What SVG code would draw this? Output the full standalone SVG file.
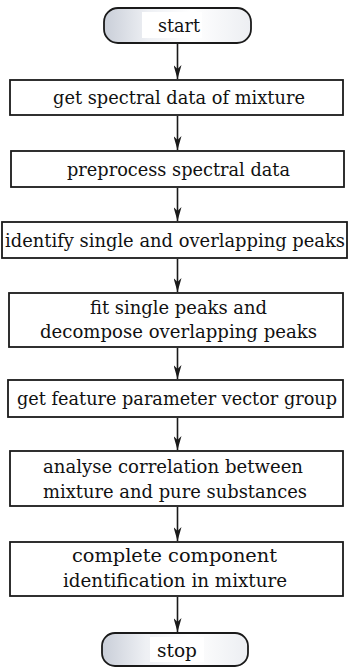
<svg xmlns="http://www.w3.org/2000/svg" width="348" height="667" viewBox="0 0 348 667">
<style>
.box{fill:#fff;stroke:#1a1a1a;stroke-width:1.8}
.term{fill:url(#tg);stroke:#1a1a1a;stroke-width:1.8}
.t{font-family:"DejaVu Serif","Liberation Serif",serif;font-size:18px;fill:#111;text-anchor:middle}
.c{stroke:#1a1a1a;stroke-width:1.6;fill:none;marker-end:url(#ah)}
</style>
<defs>
<linearGradient id="tg" x1="0" y1="0" x2="1" y2="0">
<stop offset="0" stop-color="#c9ced8"/>
<stop offset="0.3" stop-color="#eef0f4"/>
<stop offset="0.6" stop-color="#ffffff"/>
<stop offset="1" stop-color="#eceef2"/>
</linearGradient>
<marker id="ah" viewBox="0 0 14 8" refX="14" refY="4" markerWidth="14" markerHeight="8" markerUnits="userSpaceOnUse" orient="auto">
<path d="M0,0 L14,4 L0,8 L4,4 Z" fill="#1a1a1a"/>
</marker>
</defs>
<g id="start">
<rect class="term" x="104" y="8" width="147" height="35" rx="14"/>
<rect x="142" y="12" width="60" height="26" fill="#fff"/>
<text class="t" x="179" y="32" textLength="42" lengthAdjust="spacingAndGlyphs">start</text>
</g>
<g id="n1">
<rect class="box" x="10" y="80" width="333" height="35"/>
<text class="t" x="179" y="104" textLength="252" lengthAdjust="spacingAndGlyphs">get spectral data of mixture</text>
</g>
<g id="n2">
<rect class="box" x="11" y="151" width="333" height="36"/>
<text class="t" x="178.5" y="176" textLength="223" lengthAdjust="spacingAndGlyphs">preprocess spectral data</text>
</g>
<g id="n3">
<rect class="box" x="2" y="222" width="345" height="36"/>
<text class="t" x="175" y="247" textLength="340" lengthAdjust="spacingAndGlyphs">identify single and overlapping peaks</text>
</g>
<g id="n4">
<rect class="box" x="9" y="293" width="334" height="54"/>
<text class="t" x="178.5" y="314" textLength="177" lengthAdjust="spacingAndGlyphs">fit single peaks and</text>
<text class="t" x="178.5" y="338" textLength="277" lengthAdjust="spacingAndGlyphs">decompose overlapping peaks</text>
</g>
<g id="n5">
<rect class="box" x="8" y="380" width="335" height="37"/>
<text class="t" x="177" y="405" textLength="320" lengthAdjust="spacingAndGlyphs">get feature parameter vector group</text>
</g>
<g id="n6">
<rect class="box" x="10" y="451" width="333" height="55"/>
<text class="t" x="173" y="473" textLength="260" lengthAdjust="spacingAndGlyphs">analyse correlation between</text>
<text class="t" x="175" y="498" textLength="264" lengthAdjust="spacingAndGlyphs">mixture and pure substances</text>
</g>
<g id="n7">
<rect class="box" x="10" y="542" width="333" height="54"/>
<text class="t" x="174.5" y="562" textLength="205" lengthAdjust="spacingAndGlyphs">complete component</text>
<text class="t" x="175" y="587" textLength="224" lengthAdjust="spacingAndGlyphs">identification in mixture</text>
</g>
<g id="stop">
<rect class="term" x="102" y="633" width="146" height="33" rx="13"/>
<rect x="150" y="637" width="54" height="25" fill="#fff"/>
<text class="t" x="177" y="657" textLength="40" lengthAdjust="spacingAndGlyphs">stop</text>
</g>
<g id="connectors">
<line class="c" x1="177.5" y1="44" x2="177.5" y2="79"/>
<line class="c" x1="177.5" y1="116" x2="177.5" y2="150"/>
<line class="c" x1="177.5" y1="188" x2="177.5" y2="221"/>
<line class="c" x1="177.5" y1="259" x2="177.5" y2="292"/>
<line class="c" x1="177.5" y1="348" x2="177.5" y2="379"/>
<line class="c" x1="177.5" y1="418" x2="177.5" y2="450"/>
<line class="c" x1="177.5" y1="507" x2="177.5" y2="541"/>
<line class="c" x1="177.5" y1="597" x2="177.5" y2="632"/>
</g>
</svg>
